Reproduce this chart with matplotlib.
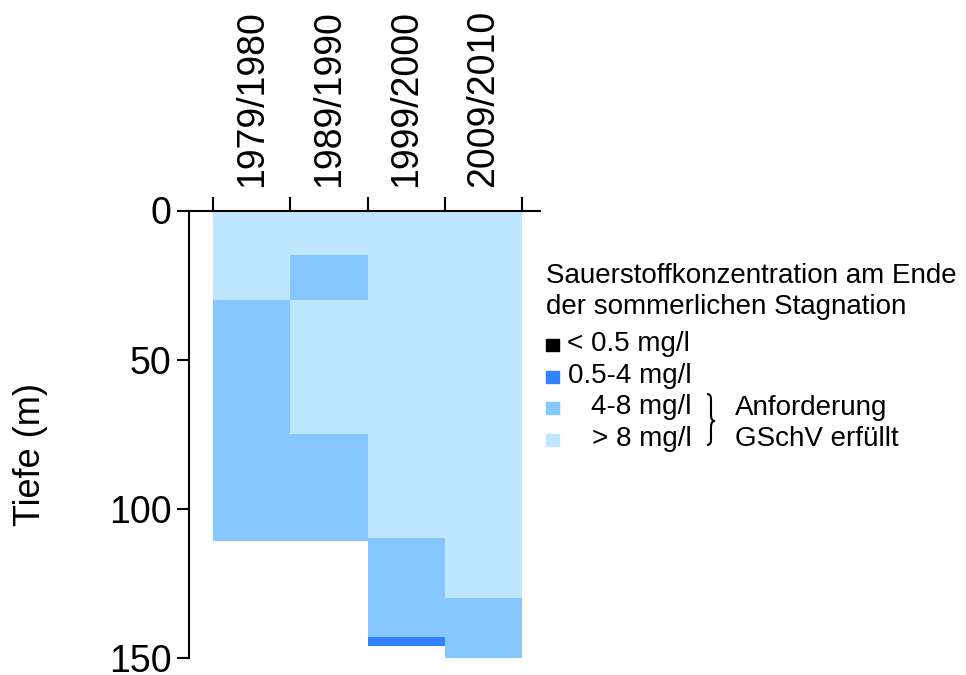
import matplotlib
matplotlib.use("Agg")
import matplotlib.pyplot as plt
from matplotlib.patches import Rectangle, PathPatch
from matplotlib.path import Path

plt.rcParams['font.family'] = ['Liberation Sans', 'DejaVu Sans']

# ---- data ----
periods = ["1979/1980", "1989/1990", "1999/2000", "2009/2010"]
class_labels = ["< 0.5 mg/l", "0.5-4 mg/l", "4-8 mg/l", "> 8 mg/l"]
class_colors = ["#000000", "#3381FF", "#87C7FF", "#BFE6FF"]

seg_period = [0, 0, 1, 1, 1, 1, 2, 2, 2, 3, 3]
seg_top    = [0, 30, 0, 15, 30, 75, 0, 110, 143, 0, 130]
seg_bottom = [30, 111, 15, 30, 75, 111, 110, 143, 146, 130, 150]
seg_class  = [3, 2, 3, 2, 3, 2, 3, 2, 1, 3, 2]

y_ticks = [0, 50, 100, 150]

W, H = 966, 675
fig = plt.figure(figsize=(W / 100, H / 100), dpi=100)

def fx(x):
    return x / W

def fy(y):
    return 1 - y / H

ax_left, ax_right = 189, 540
ax_top, ax_bot = 210.5, 657.7
ax = fig.add_axes([fx(ax_left), fy(ax_bot), (ax_right - ax_left) / W, (ax_bot - ax_top) / H])

for p, t, b, c in zip(seg_period, seg_top, seg_bottom, seg_class):
    ax.bar(p + 0.5, b - t, bottom=t, width=1.0, color=class_colors[c],
           edgecolor='none', linewidth=0, clip_on=False, zorder=1)

ax.set_ylim(150, 0)
ax.set_xlim(-0.311, 4.233)

for s in ['right', 'bottom']:
    ax.spines[s].set_visible(False)
for s in ['left', 'top']:
    ax.spines[s].set_linewidth(1.5)
    ax.spines[s].set_zorder(3)

ax.set_yticks(y_ticks)
ax.set_yticklabels([str(v) for v in y_ticks], fontsize=27)
ax.tick_params(axis='y', direction='out', length=8.6, width=1.5, pad=4)

ax.xaxis.tick_top()
ax.set_xticks(range(len(periods) + 1))
ax.set_xticklabels([])
ax.set_xticks([i + 0.5 for i in range(len(periods))], minor=True)
ax.set_xticklabels(periods, minor=True, rotation=90, fontsize=27)
ax.tick_params(axis='x', which='major', direction='out', length=10, width=1.5)
ax.tick_params(axis='x', which='minor', length=0, pad=17)

fig.text(fx(31), fy(454), "Tiefe (m)", rotation=90, fontsize=26,
         ha='center', va='center')

# ---- legend ----
fs = 20
fig.text(fx(546), fy(283), "Sauerstoffkonzentration am Ende", fontsize=fs, va='baseline', ha='left')
fig.text(fx(546), fy(314), "der sommerlichen Stagnation", fontsize=fs, va='baseline', ha='left')

base_y = [351, 383, 414, 446]
text_x = [567, 568, 591, 592]
for lab, col, by, tx in zip(class_labels, class_colors, base_y, text_x):
    fig.patches.append(Rectangle((fx(546), fy(by)), 13 / W, 12 / H,
                                 transform=fig.transFigure, color=col, figure=fig))
    fig.text(fx(tx), fy(by), lab, fontsize=fs, va='baseline', ha='left')

fig.text(fx(735), fy(415), "Anforderung", fontsize=fs, va='baseline', ha='left')
fig.text(fx(735), fy(446), "GSchV erfüllt", fontsize=fs, va='baseline', ha='left')

# brace
verts = [(707, 394), (711, 394), (711, 399), (711, 403),
         (711, 415), (711, 421), (715, 421),
         (711, 421), (711, 427),
         (711, 440), (711, 445), (707, 445)]
codes = [Path.MOVETO, Path.CURVE3, Path.CURVE3, Path.LINETO,
         Path.LINETO, Path.CURVE3, Path.CURVE3,
         Path.CURVE3, Path.CURVE3,
         Path.LINETO, Path.CURVE3, Path.CURVE3]
verts_f = [(fx(x), fy(y)) for x, y in verts]
fig.patches.append(PathPatch(Path(verts_f, codes), transform=fig.transFigure,
                             facecolor='none', edgecolor='black', lw=1.5, figure=fig))

fig.savefig("out.png", dpi=100)
